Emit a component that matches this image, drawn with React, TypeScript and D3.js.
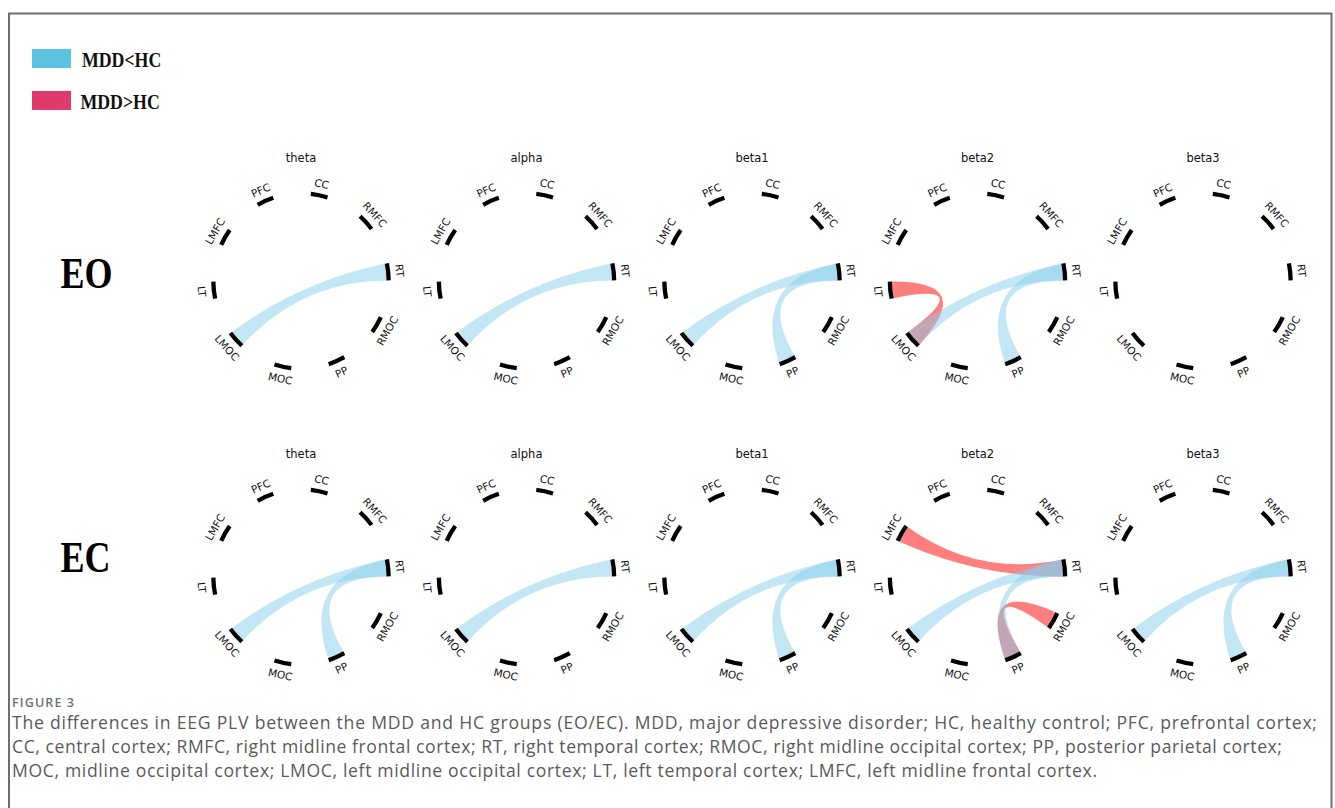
import { useRef, useEffect } from 'react';
import * as d3 from 'd3';

const NODES = ['PFC', 'CC', 'RMFC', 'RT', 'RMOC', 'PP', 'MOC', 'LMOC', 'LT', 'LMFC'];
const BANDS = ['theta', 'alpha', 'beta1', 'beta2', 'beta3'];
const CONDITIONS = ['EO', 'EC'];

// connections per band, MDD<HC (blue) and MDD>HC (red)
const EO_LOWER: string[][][] = [
  [['LMOC', 'RT']],
  [['LMOC', 'RT']],
  [['LMOC', 'RT'], ['PP', 'RT']],
  [['LMOC', 'RT'], ['PP', 'RT']],
  [],
];
const EO_HIGHER: string[][][] = [[], [], [], [['LT', 'LMOC']], []];
const EC_LOWER: string[][][] = [
  [['LMOC', 'RT'], ['PP', 'RT']],
  [['LMOC', 'RT']],
  [['LMOC', 'RT'], ['PP', 'RT']],
  [['LMOC', 'RT'], ['PP', 'RT']],
  [['LMOC', 'RT'], ['PP', 'RT']],
];
const EC_HIGHER: string[][][] = [[], [], [], [['LMFC', 'RT'], ['PP', 'RMOC']], []];

const LEGEND_LABELS = ['MDD<HC', 'MDD>HC'];
const LEGEND_COLORS = ['#5cc3e2', '#e03a6c'];

const CAPTION_TITLE = 'FIGURE 3';
const CAPTION_LINES = [
  'The differences in EEG PLV between the MDD and HC groups (EO/EC). MDD, major depressive disorder; HC, healthy control; PFC, prefrontal cortex;',
  'CC, central cortex; RMFC, right midline frontal cortex; RT, right temporal cortex; RMOC, right midline occipital cortex; PP, posterior parietal cortex;',
  'MOC, midline occipital cortex; LMOC, left midline occipital cortex; LT, left temporal cortex; LMFC, left midline frontal cortex.',
];
const CAPTION_WIDTHS = [1305, 1270, 1085];

const W = 1335;
const H = 808;

function draw(svgEl: SVGSVGElement) {
  const svg = d3.select(svgEl);
  svg.selectAll('*').remove();

  // frame
  svg.append('rect')
    .attr('x', 9).attr('y', 13.5)
    .attr('width', 1322.5).attr('height', 830)
    .attr('fill', 'none')
    .attr('stroke', '#6e6e6e')
    .attr('stroke-width', 2);

  // legend
  const legend = svg.append('g');
  LEGEND_LABELS.forEach((lab, i) => {
    const y0 = 49 + i * 42;
    legend.append('rect')
      .attr('x', 32).attr('y', y0)
      .attr('width', 39).attr('height', 19)
      .attr('fill', LEGEND_COLORS[i]);
    legend.append('text')
      .attr('transform', `translate(${i === 0 ? 82 : 80.5},${y0 + 17.7}) scale(1,1.12)`)
      .attr('font-family', '"Liberation Serif", serif')
      .attr('font-weight', 'bold')
      .attr('font-size', 17.8)
      .attr('fill', '#111')
      .text(lab);
  });

  const xScale = d3.scalePoint<string>().domain(BANDS).range([301, 1203]);
  const yScale = d3.scalePoint<string>().domain(CONDITIONS).range([281, 577]);
  const condLabelY: Record<string, number> = { EO: 288, EC: 572 };

  const n = NODES.length;
  const angle = d3.scaleLinear()
    .domain([0, n])
    .range([(-24 * Math.PI) / 180, (336 * Math.PI) / 180]);
  const half = (11.2 * Math.PI) / 180 / 2;
  const rIn = 85.5;
  const rOut = 89.8;
  const rLabel = 99.5;

  const tickArc = d3.arc<any>()
    .innerRadius(rIn)
    .outerRadius(rOut);
  const ribbon = d3.ribbon<any, any>().radius(rIn);

  const nodeSpan = (name: string) => {
    const a = angle(NODES.indexOf(name));
    return { startAngle: a - half, endAngle: a + half };
  };

  CONDITIONS.forEach((cond) => {
    const lower = cond === 'EO' ? EO_LOWER : EC_LOWER;
    const higher = cond === 'EO' ? EO_HIGHER : EC_HIGHER;

    svg.append('text')
      .attr('transform', `translate(60.5,${condLabelY[cond]}) scale(1,1.22)`)
      .attr('font-family', '"Liberation Serif", serif')
      .attr('font-weight', 'bold')
      .attr('font-size', 36)
      .attr('fill', '#000')
      .text(cond);

    BANDS.forEach((band, bi) => {
      const cx = xScale(band)!;
      const cy = yScale(cond)!;
      const g = svg.append('g').attr('transform', `translate(${cx},${cy})`);

      g.append('text')
        .attr('x', 0).attr('y', -119)
        .attr('text-anchor', 'middle')
        .attr('font-family', '"DejaVu Sans", sans-serif')
        .attr('font-size', 11.5)
        .attr('fill', '#111')
        .text(band);

      // red first, blue drawn over it
      const links = [
        ...higher[bi].map((p) => ({ p, color: 'rgba(255,0,0,0.5)' })),
        ...lower[bi].map((p) => ({ p, color: 'rgba(135,206,235,0.5)' })),
      ];
      g.selectAll('path.ribbon')
        .data(links)
        .join('path')
        .attr('class', 'ribbon')
        .attr('d', (d) => ribbon({ source: nodeSpan(d.p[0]), target: nodeSpan(d.p[1]) }) as unknown as string)
        .attr('fill', (d) => d.color)
        .attr('stroke', 'none');

      g.selectAll('path.tick')
        .data(NODES)
        .join('path')
        .attr('class', 'tick')
        .attr('d', (d) => tickArc(nodeSpan(d)) as string)
        .attr('fill', '#000');

      g.selectAll('text.node')
        .data(NODES)
        .join('text')
        .attr('class', 'node')
        .attr('transform', (d) => {
          const a = angle(NODES.indexOf(d));
          const x = rLabel * Math.sin(a);
          const y = -rLabel * Math.cos(a);
          let deg = (a * 180) / Math.PI;
          while (deg > 180) deg -= 360;
          while (deg <= -180) deg += 360;
          if (deg > 90) deg -= 180;
          else if (deg <= -90) deg += 180;
          return `translate(${x},${y}) rotate(${deg})`;
        })
        .attr('text-anchor', 'middle')
        .attr('dominant-baseline', 'central')
        .attr('font-family', '"DejaVu Sans", sans-serif')
        .attr('font-size', 10.5)
        .attr('fill', '#111')
        .text((d) => d);
    });
  });

  // caption
  svg.append('text')
    .attr('x', 12).attr('y', 707)
    .attr('font-family', '"Open Sans", sans-serif')
    .attr('font-size', 12.5)
    .attr('font-weight', 600)
    .attr('fill', '#707070')
    .attr('textLength', 62)
    .attr('lengthAdjust', 'spacing')
    .text(CAPTION_TITLE);

  CAPTION_LINES.forEach((line, i) => {
    svg.append('text')
      .attr('x', 12).attr('y', 729 + i * 24)
      .attr('font-family', '"Open Sans", sans-serif')
      .attr('font-size', 17.6)
      .attr('fill', '#5a5a5a')
      .attr('textLength', CAPTION_WIDTHS[i])
      .attr('lengthAdjust', 'spacing')
      .text(line);
  });
}

export default function App() {
  const svgRef = useRef<SVGSVGElement>(null);

  useEffect(() => {
    if (svgRef.current) draw(svgRef.current);
  }, []);

  return (
    <svg
      ref={svgRef}
      width={W}
      height={H}
      style={{ position: 'absolute', left: 0, top: 0, background: '#fff' }}
    />
  );
}
